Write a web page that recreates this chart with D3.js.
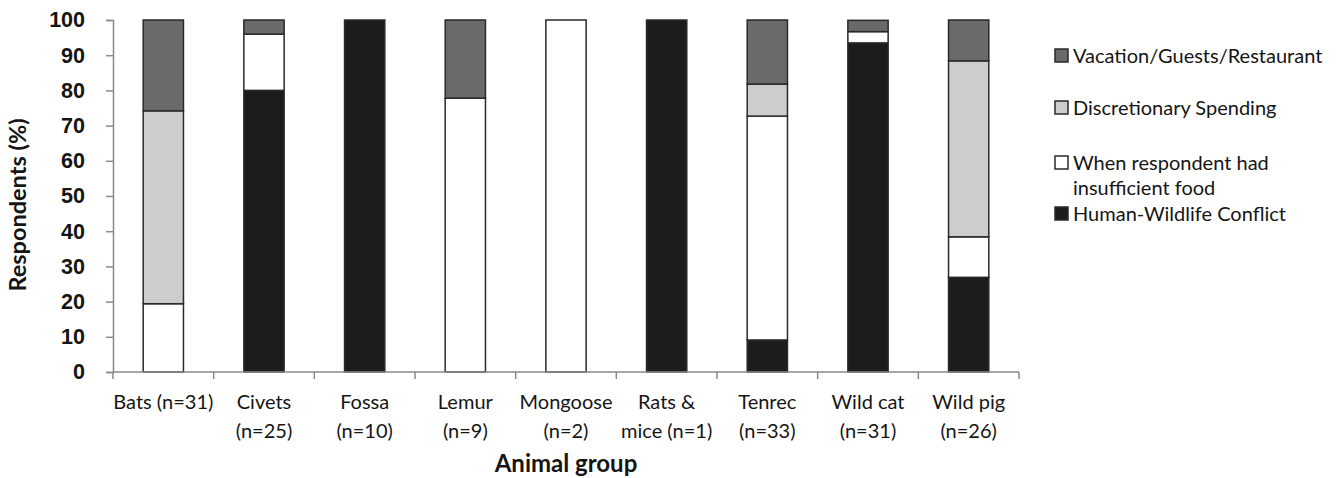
<!DOCTYPE html>
<html><head><meta charset="utf-8">
<script src="https://cdn.jsdelivr.net/npm/d3@7"></script>
<style>body{margin:0;background:#fff}svg{display:block}</style>
</head><body><svg id="c" width="1339" height="478"></svg>
<script>
const categories = [["Bats (n=31)"],["Civets","(n=25)"],["Fossa","(n=10)"],["Lemur","(n=9)"],["Mongoose","(n=2)"],["Rats &","mice (n=1)"],["Tenrec","(n=33)"],["Wild cat","(n=31)"],["Wild pig","(n=26)"]];
const conflict     = [0, 80, 100, 0, 0, 100, 9.1, 93.5, 26.9];
const insufficient = [19.4, 16, 0, 77.8, 100, 0, 63.6, 3.2, 11.5];
const discretionary= [54.8, 0, 0, 0, 0, 0, 9.1, 0, 50];
const vacation     = [25.8, 4, 0, 22.2, 0, 0, 18.2, 3.2, 11.6];
const seriesNames = ["Human-Wildlife Conflict","When respondent had insufficient food","Discretionary Spending","Vacation/Guests/Restaurant"];
const yTicks = [0,10,20,30,40,50,60,70,80,90,100];

const colors = ["#1c1c1c","#ffffff","#cdcdcd","#6a6a6a"];
const svg = d3.select("#c");
const m = {l:113, r:1019, t:20, b:372};
const x = d3.scaleBand().domain(d3.range(categories.length)).range([m.l, m.r]).paddingInner(0.6).paddingOuter(0.3);
const y = d3.scaleLinear().domain([0,100]).range([m.b, m.t]);

const rows = categories.map((c,i)=>({i, s0:conflict[i], s1:insufficient[i], s2:discretionary[i], s3:vacation[i]}));
const stack = d3.stack().keys(["s0","s1","s2","s3"])(rows);

const lbl = "Lato, 'Open Sans', sans-serif";
const ax = "'Liberation Sans', Arial, sans-serif";
const tc = "#151515";

stack.forEach((layer,k)=>{
  svg.append("g").selectAll("rect").data(layer.filter(d=>d[1]-d[0]>0)).join("rect")
    .attr("x", d=>x(d.data.i)).attr("width", x.bandwidth())
    .attr("y", d=>y(d[1])).attr("height", d=>y(d[0])-y(d[1]))
    .attr("fill", colors[k]).attr("stroke","#2a2a2a").attr("stroke-width",1.5);
});

// y axis
const ya = svg.append("g").attr("transform",`translate(${m.l},0)`)
  .call(d3.axisLeft(y).tickValues(yTicks).tickSize(7).tickPadding(21));
ya.select(".domain").attr("stroke","#8a8a8a").attr("stroke-width",1.5);
ya.selectAll(".tick line").attr("stroke","#8a8a8a").attr("stroke-width",1.5);
ya.selectAll("text").attr("font-family",ax).attr("font-weight","bold").attr("font-size",21.5).attr("fill",tc);

// x axis
const xa = svg.append("g").attr("transform",`translate(0,${m.b})`);
xa.append("line").attr("x1",m.l).attr("x2",m.r).attr("stroke","#8a8a8a").attr("stroke-width",1.5);
const step = x.step();
const bounds = d3.range(categories.length+1).map(i=> i===0? m.l : (i===categories.length? m.r : x(i)-x.paddingInner()*step/2));
xa.selectAll("line.t").data(bounds).join("line").attr("class","t")
  .attr("x1",d=>d).attr("x2",d=>d).attr("y1",0).attr("y2",7).attr("stroke","#8a8a8a").attr("stroke-width",1.5);

const xl = svg.append("g");
categories.forEach((c,i)=>{
  const t = xl.append("text").attr("x", x(i)+x.bandwidth()/2).attr("y",409)
    .attr("text-anchor","middle").attr("font-family",lbl).attr("font-size",20).attr("fill",tc);
  c.forEach((s,j)=> t.append("tspan").attr("x", x(i)+x.bandwidth()/2).attr("dy", j===0?0:29).text(s));
});

svg.append("text").attr("x",(m.l+m.r)/2).attr("y",472).attr("text-anchor","middle")
  .attr("font-family",lbl).attr("font-weight","bold").attr("font-size",24).attr("fill",tc).text("Animal group");
svg.append("text").attr("transform",`translate(26,205) rotate(-90)`).attr("text-anchor","middle")
  .attr("font-family",lbl).attr("font-weight","bold").attr("font-size",23.5).attr("fill",tc).text("Respondents (%)");

// legend
const leg = [
  {k:3, lines:["Vacation/Guests/Restaurant"], y:56},
  {k:2, lines:["Discretionary Spending"], y:108},
  {k:1, lines:["When respondent had","insufficient food"], y:163},
  {k:0, lines:["Human-Wildlife Conflict"], y:214}
];
const lg = svg.append("g");
leg.forEach(e=>{
  lg.append("rect").attr("x",1055).attr("y",e.y-7).attr("width",13).attr("height",13)
    .attr("fill",colors[e.k]).attr("stroke","#2a2a2a").attr("stroke-width",1.5);
  const t = lg.append("text").attr("x",1073).attr("y",e.y+7).attr("font-family",lbl).attr("font-size",20).attr("fill",tc);
  e.lines.forEach((s,j)=>t.append("tspan").attr("x",1073).attr("dy",j===0?0:25).text(s));
});
</script></body></html>
